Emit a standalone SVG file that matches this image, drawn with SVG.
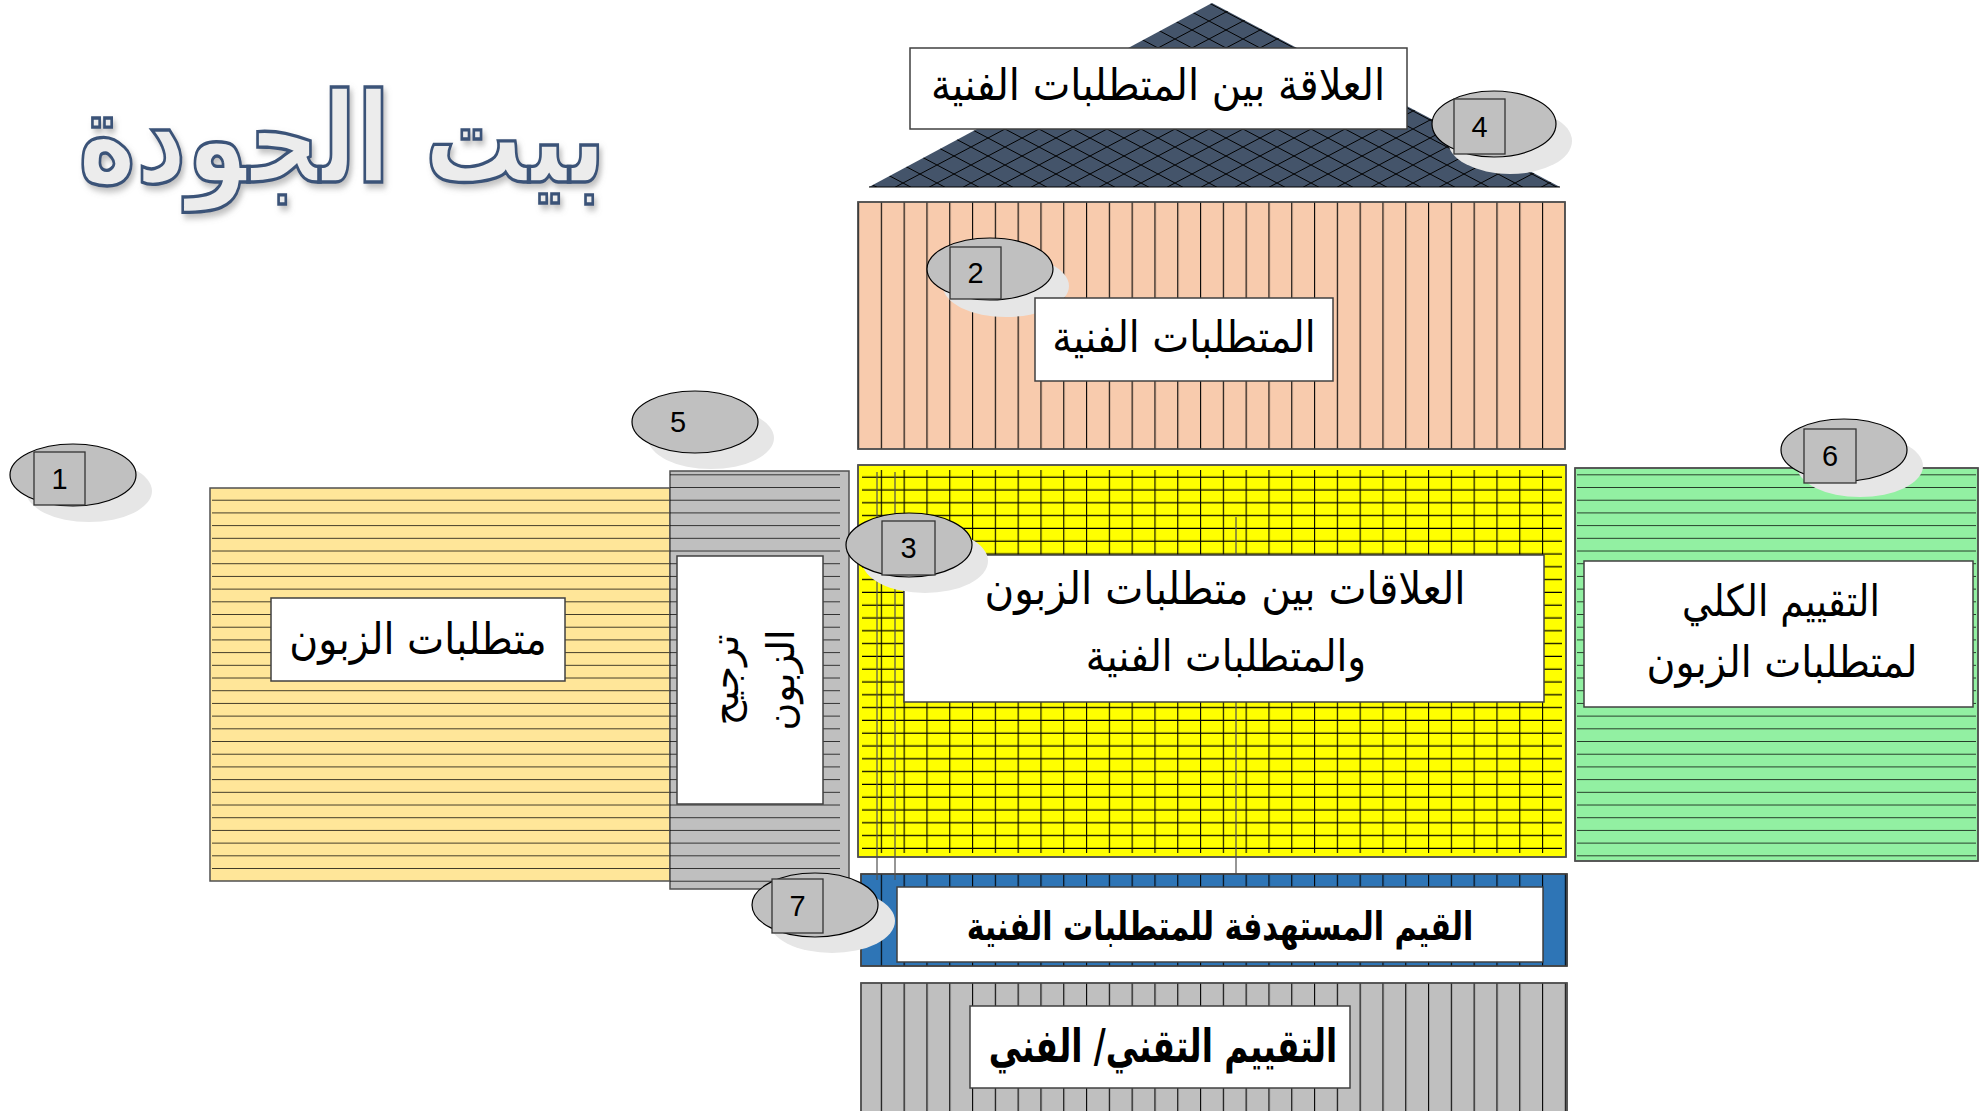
<svg xmlns="http://www.w3.org/2000/svg" width="1982" height="1111" viewBox="0 0 1982 1111">
<style>
.ar{font-family:"DejaVu Sans",sans-serif;fill:#000;text-anchor:middle;direction:rtl}
.num{font-family:"Liberation Sans",Arial,sans-serif;font-size:29px;fill:#000;text-anchor:middle}
.box{fill:#fff;stroke:#404040;stroke-width:1.5}
.frame{stroke:#505050;stroke-width:1.5}
.ell{fill:#c0c0c0;stroke:#000;stroke-width:1.2}
.sh{fill:#e6e6e6}
.sq{fill:#c0c0c0;stroke:#333;stroke-width:1.3}
.stray{stroke:#505050;stroke-width:1.2}
</style>
<defs>
<pattern id="pH" width="40" height="12.7" patternUnits="userSpaceOnUse" y="488"><line x1="0" y1="12.5" x2="40" y2="12.5" stroke="#000" stroke-width="1.3"/></pattern>
<pattern id="pV" width="22.8" height="20" patternUnits="userSpaceOnUse" x="858"><line x1="0.6" y1="0" x2="0.6" y2="20" stroke="#000" stroke-width="1.1"/></pattern>
<pattern id="pG" width="22.8" height="12.8" patternUnits="userSpaceOnUse" x="858" y="465"><path d="M0.6 0V12.8M0 12.2H22.8" stroke="#000" stroke-width="1.1" fill="none"/></pattern>
<pattern id="pX" width="34" height="18" patternUnits="userSpaceOnUse" x="869" y="3"><path d="M0 0L34 18M0 18L34 0" stroke="#000" stroke-width="1" fill="none"/></pattern>
<filter id="ds" x="-10%" y="-10%" width="120%" height="130%"><feDropShadow dx="3" dy="4" stdDeviation="3" flood-color="#7f7f7f" flood-opacity="0.5"/></filter>
</defs>

<g id="title">
<text transform="translate(342,182) scale(0.88,1.12)" x="0" y="0" font-family="DejaVu Sans,sans-serif" font-size="112" font-weight="bold" fill="#ececec" stroke="#3a5378" stroke-width="3" text-anchor="middle" filter="url(#ds)" style="direction:rtl">بيت الجودة</text>
</g>

<g id="roof">
<polygon points="1212,3 869,187 1560,187" fill="#44546a"/>
<polygon points="1212,3 869,187 1560,187" fill="url(#pX)"/>
<line x1="869" y1="187" x2="1560" y2="187" stroke="#000" stroke-width="1.2"/>
<rect class="box" x="910" y="48" width="497" height="81"/>
<text class="ar" transform="translate(1158,100) scale(1,1.1)" x="0" y="0" font-size="40">العلاقة بين المتطلبات الفنية</text>
</g>

<g id="technical-requirements">
<rect class="frame" x="858" y="202" width="707" height="247" fill="#f8cbad"/>
<rect x="858" y="202" width="707" height="247" fill="url(#pV)"/>
<rect x="858" y="202" width="707" height="247" fill="none" stroke="#505050" stroke-width="1.5"/>
</g>

<g id="customer-requirements">
<rect class="frame" x="210" y="488" width="460" height="393" fill="#ffe699"/>
<rect x="212" y="489" width="464" height="390" fill="url(#pH)"/>
<rect class="box" x="271" y="598" width="294" height="83"/>
<text class="ar" transform="translate(418,654) scale(1,1.1)" x="0" y="0" font-size="39.5">متطلبات الزبون</text>
</g>

<g id="customer-weighting">
<rect class="frame" x="670" y="471" width="179" height="418" fill="#bfbfbf"/>
<rect x="670" y="472" width="170" height="415" fill="url(#pH)"/>
<rect class="box" x="677" y="556" width="146" height="248"/>
<g transform="translate(750,680) rotate(-90)">
<text class="ar" x="0" y="-12" font-size="38">ترجيح</text>
<text class="ar" x="0" y="44" font-size="38">الزبون</text>
</g>
</g>

<g id="relationships">
<rect class="frame" x="858" y="465" width="708" height="392" fill="#ffff00"/>
<rect x="862" y="470" width="700" height="383" fill="url(#pG)"/>
<rect x="858" y="465" width="708" height="392" fill="none" stroke="#505050" stroke-width="1.5"/>
<line class="stray" x1="1236" y1="517" x2="1236" y2="555"/>
<line class="stray" x1="1236" y1="702" x2="1236" y2="874"/>
<rect class="box" x="904" y="555" width="640" height="147"/>
<text class="ar" transform="translate(1225,604) scale(1,1.1)" x="0" y="0" font-size="40.5">العلاقات بين متطلبات الزبون</text>
<text class="ar" transform="translate(1226,671) scale(1,1.1)" x="0" y="0" font-size="39">والمتطلبات الفنية</text>
</g>

<g id="overall-assessment">
<rect class="frame" x="1575" y="468" width="403" height="393" fill="#92f0a2"/>
<rect x="1577" y="469" width="399" height="390" fill="url(#pH)"/>
<rect x="1575" y="468" width="403" height="393" fill="none" stroke="#505050" stroke-width="1.5"/>
<rect class="box" x="1584" y="561" width="389" height="146"/>
<text class="ar" transform="translate(1781,616) scale(1,1.15)" x="0" y="0" font-size="37.5">التقييم الكلي</text>
<text class="ar" transform="translate(1782,677) scale(1,1.1)" x="0" y="0" font-size="39.5">لمتطلبات الزبون</text>
</g>

<g id="target-values">
<rect class="frame" x="861" y="874" width="706" height="92" fill="#2e75b6"/>
<rect x="861" y="874" width="706" height="92" fill="url(#pV)"/>
<rect x="861" y="874" width="706" height="92" fill="none" stroke="#404040" stroke-width="1.5"/>
<rect class="box" x="897" y="887" width="646" height="75"/>
<text class="ar" transform="translate(1220,940) scale(0.79,1.05)" x="0" y="0" font-size="38" font-weight="bold">القيم المستهدفة للمتطلبات الفنية</text>
</g>

<g id="technical-assessment">
<rect class="frame" x="861" y="983" width="706" height="140" fill="#bfbfbf"/>
<rect x="861" y="983" width="706" height="140" fill="url(#pV)"/>
<rect x="861" y="983" width="706" height="140" fill="none" stroke="#505050" stroke-width="1.5"/>
<rect class="box" x="970" y="1006" width="380" height="82"/>
<text class="ar" transform="translate(1163,1062) scale(0.745,1.05)" x="0" y="0" font-size="44" font-weight="bold">التقييم التقني/ الفني</text>
</g>

<g id="connectors">
<line class="stray" x1="877" y1="472" x2="877" y2="880"/>
<line class="stray" x1="895" y1="472" x2="895" y2="880"/>
</g>

<g id="marker-1">
<ellipse class="sh" cx="89" cy="491" rx="63" ry="31"/>
<ellipse class="ell" cx="73" cy="475" rx="63" ry="31"/>
<rect class="sq" x="34" y="452" width="51" height="53"/>
<text class="num" x="59.5" y="489">1</text>
</g>

<g id="marker-2">
<ellipse class="sh" cx="1006" cy="286" rx="63" ry="31"/>
<ellipse class="ell" cx="990" cy="269" rx="63" ry="31"/>
<rect class="sq" x="950" y="247" width="51" height="52"/>
<text class="num" x="975.5" y="283">2</text>
</g>
<g id="technical-requirements-label">
<rect class="box" x="1035" y="298" width="298" height="83"/>
<text class="ar" transform="translate(1184,352) scale(1,1.1)" x="0" y="0" font-size="39.3">المتطلبات الفنية</text>
</g>

<g id="marker-3">
<ellipse class="sh" cx="925" cy="561" rx="63" ry="32"/>
<ellipse class="ell" cx="909" cy="545" rx="63" ry="32"/>
<rect class="sq" x="882" y="521" width="53" height="54"/>
<text class="num" x="908.5" y="558">3</text>
</g>

<g id="marker-4">
<ellipse class="sh" cx="1510" cy="141" rx="62" ry="33"/>
<ellipse class="ell" cx="1494" cy="124" rx="62" ry="33"/>
<rect class="sq" x="1454" y="99" width="51" height="55"/>
<text class="num" x="1479.5" y="137">4</text>
</g>

<g id="marker-5">
<ellipse class="sh" cx="711" cy="438" rx="63" ry="31"/>
<ellipse class="ell" cx="695" cy="422" rx="63" ry="31"/>
<text class="num" x="678" y="432">5</text>
</g>

<g id="marker-6">
<ellipse class="sh" cx="1860" cy="466" rx="63" ry="31"/>
<ellipse class="ell" cx="1844" cy="450" rx="63" ry="31"/>
<rect class="sq" x="1804" y="429" width="52" height="54"/>
<text class="num" x="1830" y="466">6</text>
</g>

<g id="marker-7">
<ellipse class="sh" cx="832" cy="921" rx="63" ry="32"/>
<ellipse class="ell" cx="815" cy="905" rx="63" ry="32"/>
<rect class="sq" x="772" y="879" width="51" height="54"/>
<text class="num" x="797.5" y="916">7</text>
</g>
</svg>
